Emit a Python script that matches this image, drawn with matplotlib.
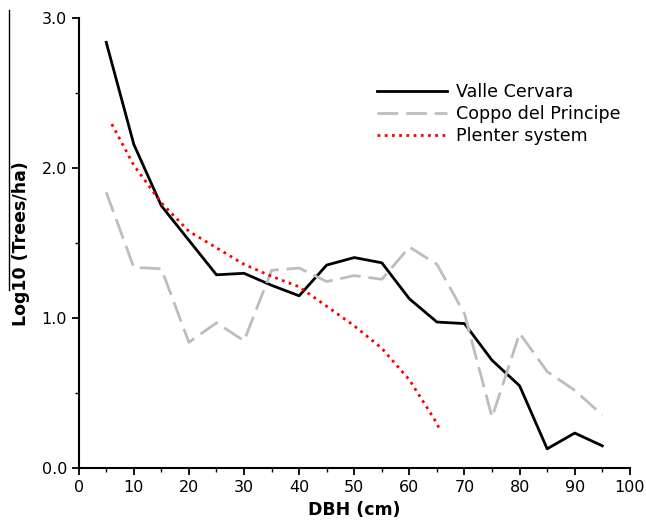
import numpy as np
import matplotlib
matplotlib.use("Agg")
import matplotlib.pyplot as plt
from matplotlib.lines import Line2D
from matplotlib.ticker import MultipleLocator

### --- Data ---
dbh = [5, 10, 15, 20, 25, 30, 35, 40, 45, 50, 55, 60, 65, 70, 75, 80, 85, 90, 95]
valle_cervara = [2.84, 2.16, 1.75, 1.52, 1.29, 1.30, 1.22, 1.15, 1.355, 1.405, 1.37,
                 1.13, 0.975, 0.965, 0.72, 0.55, 0.13, 0.235, 0.15]
coppo_principe = [1.84, 1.34, 1.33, 0.84, 0.97, 0.85, 1.32, 1.335, 1.245, 1.285, 1.26,
                  1.475, 1.36, 1.03, 0.34, 0.90, 0.645, 0.52, 0.355]

plenter_dbh = [6, 10, 15, 20, 25, 30, 35, 40, 45, 50, 55, 60, 65, 65.5]
plenter = [2.295, 2.02, 1.77, 1.58, 1.47, 1.36, 1.28, 1.21, 1.08, 0.95, 0.80,
           0.59, 0.30, 0.255]

### --- Figure ---
fig = plt.figure(figsize=(6.46, 5.20), dpi=100)
ax = fig.add_axes([0.1218, 0.0994, 0.8532, 0.8654])

ax.plot(dbh, valle_cervara, color='black', lw=2.0, label='Valle Cervara')
ax.plot(dbh, coppo_principe, color='#bdbdbd', lw=2.0, dashes=(7.5, 2.8),
        label='Coppo del Principe')
ax.plot(plenter_dbh, plenter, color='red', lw=2.0, linestyle=(0, (1, 1.6)),
        label='Plenter system')

ax.set_xlim(0, 100)
ax.set_ylim(0, 3.0)
ax.xaxis.set_major_locator(MultipleLocator(10))
ax.xaxis.set_minor_locator(MultipleLocator(5))
ax.yaxis.set_major_locator(MultipleLocator(1.0))
ax.yaxis.set_minor_locator(MultipleLocator(0.5))
ax.set_yticklabels([f"{v:.1f}" for v in ax.get_yticks()])

for s in ['top', 'right']:
    ax.spines[s].set_visible(False)
for s in ['left', 'bottom']:
    ax.spines[s].set_linewidth(1.5)
ax.tick_params(which='major', length=5, width=1.3, labelsize=11.5, direction='out')
ax.tick_params(which='minor', length=3, width=1.0, direction='out')

ax.set_xlabel('DBH (cm)', fontsize=12.5, fontweight='bold', labelpad=4)
ax.set_ylabel('Log10 (Trees/ha)', fontsize=12.5, fontweight='bold', labelpad=8)

ax.legend(loc='upper left', bbox_to_anchor=(0.541, 0.857), frameon=False,
          fontsize=12.6, handlelength=4.0, handletextpad=0.55, labelspacing=0.23,
          borderaxespad=0, borderpad=0)

# stray vertical rule at the left edge of the scan
fig.add_artist(Line2D([9 / 646, 9 / 646], [1 - 10 / 520, 1 - 290 / 520],
                      color='black', lw=1.0))

fig.savefig('out.png', dpi=100)
